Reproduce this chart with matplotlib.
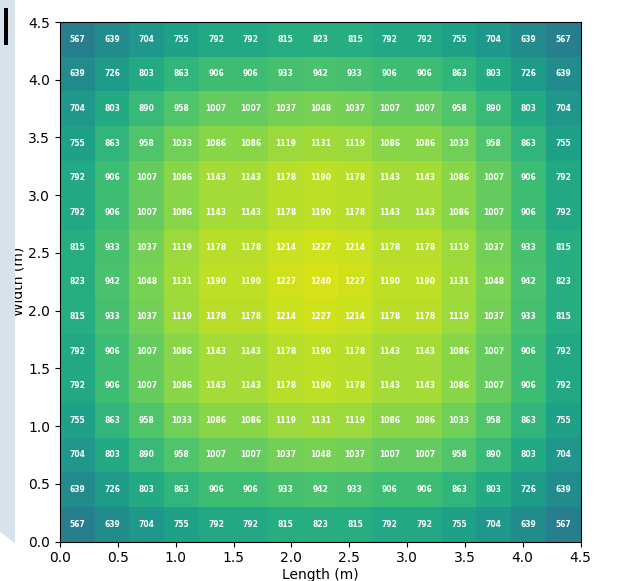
import numpy as np
import matplotlib
matplotlib.use("Agg")
import matplotlib.pyplot as plt
from matplotlib.patches import Polygon, Rectangle

# grid size and extent (m)
length = 4.5
width = 4.5
n_cells = 15

# cell values, bottom row first
values = [
    [567, 639, 704, 755, 792, 792, 815, 823, 815, 792, 792, 755, 704, 639, 567],
    [639, 726, 803, 863, 906, 906, 933, 942, 933, 906, 906, 863, 803, 726, 639],
    [704, 803, 890, 958, 1007, 1007, 1037, 1048, 1037, 1007, 1007, 958, 890, 803, 704],
    [755, 863, 958, 1033, 1086, 1086, 1119, 1131, 1119, 1086, 1086, 1033, 958, 863, 755],
    [792, 906, 1007, 1086, 1143, 1143, 1178, 1190, 1178, 1143, 1143, 1086, 1007, 906, 792],
    [792, 906, 1007, 1086, 1143, 1143, 1178, 1190, 1178, 1143, 1143, 1086, 1007, 906, 792],
    [815, 933, 1037, 1119, 1178, 1178, 1214, 1227, 1214, 1178, 1178, 1119, 1037, 933, 815],
    [823, 942, 1048, 1131, 1190, 1190, 1227, 1240, 1227, 1190, 1190, 1131, 1048, 942, 823],
    [815, 933, 1037, 1119, 1178, 1178, 1214, 1227, 1214, 1178, 1178, 1119, 1037, 933, 815],
    [792, 906, 1007, 1086, 1143, 1143, 1178, 1190, 1178, 1143, 1143, 1086, 1007, 906, 792],
    [792, 906, 1007, 1086, 1143, 1143, 1178, 1190, 1178, 1143, 1143, 1086, 1007, 906, 792],
    [755, 863, 958, 1033, 1086, 1086, 1119, 1131, 1119, 1086, 1086, 1033, 958, 863, 755],
    [704, 803, 890, 958, 1007, 1007, 1037, 1048, 1037, 1007, 1007, 958, 890, 803, 704],
    [639, 726, 803, 863, 906, 906, 933, 942, 933, 906, 906, 863, 803, 726, 639],
    [567, 639, 704, 755, 792, 792, 815, 823, 815, 792, 792, 755, 704, 639, 567],
]

W, H = 621, 581
fig = plt.figure(figsize=(W / 100, H / 100), dpi=100)
ax = fig.add_axes([60 / W, (H - 541.5) / H, 520.5 / W, 519.5 / H])

z = np.array(values)
xe = np.linspace(0, length, n_cells + 1)
ye = np.linspace(0, width, n_cells + 1)
ax.pcolormesh(xe, ye, z, cmap="viridis", vmin=0, vmax=1320)

xc = (xe[:-1] + xe[1:]) / 2
yc = (ye[:-1] + ye[1:]) / 2
for i in range(n_cells):
    for j in range(n_cells):
        ax.text(xc[j], yc[i], str(values[i][j]), ha="center", va="center",
                color="white", fontsize=5.5, fontweight="bold")

ax.set_xlim(0, length)
ax.set_ylim(0, width)
ax.set_xticks(np.arange(0, 4.51, 0.5))
ax.set_yticks(np.arange(0, 4.51, 0.5))
ax.set_xlabel("Length (m)", labelpad=2)
ax.set_ylabel("Width (m)", labelpad=2)

# side panel and marker on the left edge
panel = Polygon([(0, 1), (15 / W, 1), (15 / W, (H - 543) / H), (0, (H - 532) / H)],
                closed=True, transform=fig.transFigure, facecolor="#d6e2ec",
                edgecolor="none", zorder=10)
fig.patches.append(panel)
bar = Rectangle((4 / W, (H - 45) / H), 4 / W, 37 / H, transform=fig.transFigure,
                facecolor="black", edgecolor="none", zorder=11)
fig.patches.append(bar)

fig.savefig("out.png", dpi=100)
